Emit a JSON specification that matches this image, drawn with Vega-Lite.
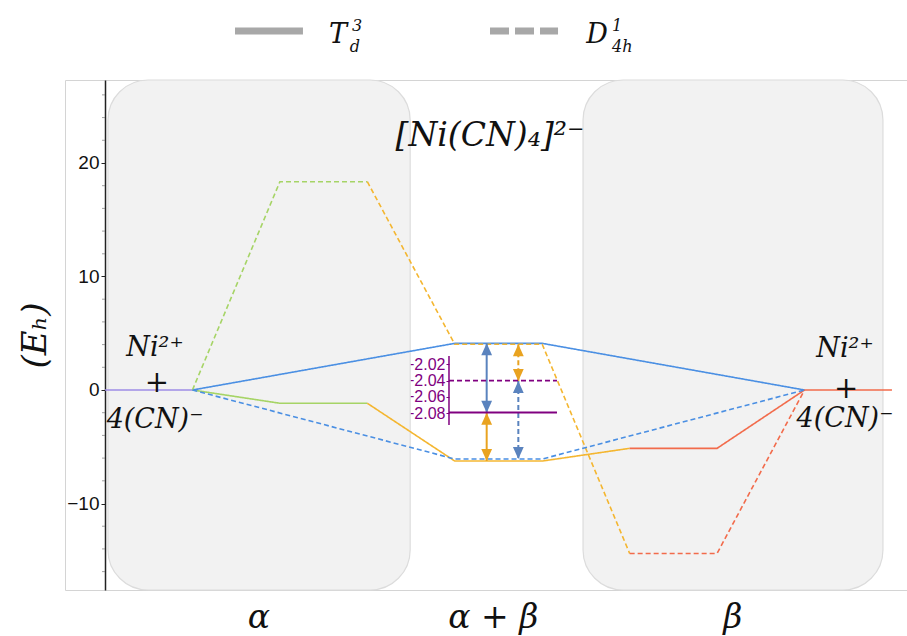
{
  "$schema": "https://vega.github.io/schema/vega-lite/v6.json",
  "width": 842,
  "height": 510,
  "autosize": {"type": "none"},
  "padding": {"left": 65, "top": 80, "right": 0, "bottom": 46},
  "background": "white",
  "config": {
    "view": {"stroke": "#d4d4d4", "strokeWidth": 1},
    "axis": {"grid": false}
  },
  "datasets": {
    "boxes": [
      {"x0": 0.034, "x1": 3.49, "y0": -17.62, "y1": 27.31},
      {"x0": 5.467, "x1": 8.897, "y0": -17.62, "y1": 27.31}
    ],
    "levels": [
      {"id": "a", "hue": "purple", "style": "solid", "x": 0, "E": 0},
      {"id": "a", "hue": "purple", "style": "solid", "x": 1, "E": 0},
      {"id": "b", "hue": "green", "style": "dashed", "x": 1, "E": 0},
      {"id": "b", "hue": "green", "style": "dashed", "x": 2, "E": 18.35},
      {"id": "b", "hue": "green", "style": "dashed", "x": 3, "E": 18.35},
      {"id": "c", "hue": "orange", "style": "dashed", "x": 3, "E": 18.35},
      {"id": "c", "hue": "orange", "style": "dashed", "x": 4, "E": 4.03},
      {"id": "c", "hue": "orange", "style": "dashed", "x": 5, "E": 4.03},
      {"id": "c", "hue": "orange", "style": "dashed", "x": 6, "E": -14.4},
      {"id": "d", "hue": "red", "style": "dashed", "x": 6, "E": -14.4},
      {"id": "d", "hue": "red", "style": "dashed", "x": 7, "E": -14.4},
      {"id": "d", "hue": "red", "style": "dashed", "x": 8, "E": 0},
      {"id": "e", "hue": "green", "style": "solid", "x": 1, "E": 0},
      {"id": "e", "hue": "green", "style": "solid", "x": 2, "E": -1.17},
      {"id": "e", "hue": "green", "style": "solid", "x": 3, "E": -1.17},
      {"id": "f", "hue": "orange", "style": "solid", "x": 3, "E": -1.17},
      {"id": "f", "hue": "orange", "style": "solid", "x": 4, "E": -6.26},
      {"id": "f", "hue": "orange", "style": "solid", "x": 5, "E": -6.26},
      {"id": "f", "hue": "orange", "style": "solid", "x": 6, "E": -5.14},
      {"id": "g", "hue": "red", "style": "solid", "x": 6, "E": -5.14},
      {"id": "g", "hue": "red", "style": "solid", "x": 7, "E": -5.14},
      {"id": "g", "hue": "red", "style": "solid", "x": 8, "E": 0},
      {"id": "g", "hue": "red", "style": "solid", "x": 9, "E": 0},
      {"id": "h", "hue": "blue", "style": "solid", "x": 1, "E": 0},
      {"id": "h", "hue": "blue", "style": "solid", "x": 4, "E": 4.11},
      {"id": "h", "hue": "blue", "style": "solid", "x": 5, "E": 4.11},
      {"id": "h", "hue": "blue", "style": "solid", "x": 8, "E": 0},
      {"id": "i", "hue": "blue", "style": "dashed", "x": 1, "E": 0},
      {"id": "i", "hue": "blue", "style": "dashed", "x": 4, "E": -6.08},
      {"id": "i", "hue": "blue", "style": "dashed", "x": 5, "E": -6.08},
      {"id": "i", "hue": "blue", "style": "dashed", "x": 8, "E": 0}
    ],
    "arrows": [
      {"x": 4.365, "top": 4.11, "bottom": -2.0, "hue": "steel", "style": "solid"},
      {"x": 4.365, "top": -2.0, "bottom": -6.26, "hue": "amber", "style": "solid"},
      {"x": 4.727, "top": 4.03, "bottom": 0.79, "hue": "amber", "style": "dashed"},
      {"x": 4.727, "top": 0.79, "bottom": -6.08, "hue": "steel", "style": "dashed"}
    ],
    "minorTicks": [
      {"E": -16}, {"E": -14}, {"E": -12}, {"E": -8}, {"E": -6}, {"E": -4}, {"E": -2},
      {"E": 2}, {"E": 4}, {"E": 6}, {"E": 8}, {"E": 12}, {"E": 14}, {"E": 16},
      {"E": 18}, {"E": 22}, {"E": 24}, {"E": 26}
    ],
    "legendKeys": [
      {"x0": 1.487, "x1": 2.264, "E": 31.63, "style": "solid"},
      {"x0": 4.403, "x1": 5.181, "E": 31.63, "style": "wide"}
    ],
    "formulas": [
      {"text": "[Ni(CN)₄]²⁻", "x": 4.403, "E": 21.5, "role": "title"},
      {"text": "Ni²⁺", "x": 0.572, "E": 3.0, "role": "species"},
      {"text": "4(CN)⁻", "x": 0.572, "E": -3.35, "role": "species"},
      {"text": "Ni²⁺", "x": 8.463, "E": 2.95, "role": "species"},
      {"text": "4(CN)⁻", "x": 8.463, "E": -3.3, "role": "species"},
      {"text": "α", "x": 1.76, "E": -20.97, "role": "phase"},
      {"text": "α + β", "x": 4.44, "E": -20.97, "role": "phase"},
      {"text": "β", "x": 7.18, "E": -20.97, "role": "phase"},
      {"text": "T", "x": 2.665, "E": 30.57, "role": "symbol"},
      {"text": "D", "x": 5.627, "E": 30.57, "role": "symbol"}
    ],
    "scripts": [
      {"text": "3", "x": 2.825, "E": 31.6},
      {"text": "d", "x": 2.8, "E": 29.75},
      {"text": "1", "x": 5.798, "E": 31.6},
      {"text": "4h", "x": 5.798, "E": 29.75}
    ],
    "plusSigns": [
      {"x": 0.595, "E": 0.6},
      {"x": 8.475, "E": 0.1}
    ],
    "insetAxis": [
      {"x": 3.934, "v0": -2.0943, "v1": -2.0098}
    ],
    "insetLevels": [
      {"x0": 3.934, "x1": 5.169, "v": -2.04, "style": "dashed"},
      {"x0": 3.934, "x1": 5.169, "v": -2.079, "style": "solid"}
    ]
  },
  "resolve": {"scale": {"y": "independent"}},
  "layer": [
    {
      "layer": [
        {
          "data": {"name": "boxes"},
          "mark": {"type": "rect", "fill": "#f2f2f2", "stroke": "#dcdcdc", "strokeWidth": 1.2, "cornerRadius": 40},
          "encoding": {
            "x": {"field": "x0", "type": "quantitative", "scale": {"domain": [-0.4575, 9.172], "nice": false, "zero": false}, "axis": null},
            "x2": {"field": "x1"},
            "y": {
              "field": "y0", "type": "quantitative",
              "scale": {"domain": [-17.62, 27.31], "nice": false, "zero": false},
              "axis": {
                "orient": "left", "offset": -40, "values": [-10, 0, 10, 20], "format": "d",
                "domainColor": "#222222", "domainWidth": 1.5, "tickColor": "#222222", "tickSize": 4,
                "labelFont": "Liberation Sans", "labelFontSize": 19, "labelColor": "#111111", "labelPadding": 2,
                "title": "(Eₕ)", "titleFont": "DejaVu Serif", "titleFontStyle": "italic", "titleFontWeight": "normal",
                "titleFontSize": 34, "titleColor": "#111111", "titlePadding": 14
              }
            },
            "y2": {"field": "y1"}
          }
        },
        {
          "data": {"name": "minorTicks"},
          "mark": {"type": "tick", "orient": "horizontal", "size": 3, "thickness": 1, "color": "#777777", "xOffset": -1.5},
          "encoding": {
            "x": {"datum": 0, "type": "quantitative", "scale": {"domain": [-0.4575, 9.172], "nice": false, "zero": false}},
            "y": {"field": "E", "type": "quantitative", "scale": {"domain": [-17.62, 27.31], "nice": false, "zero": false}}
          }
        },
        {
          "data": {"name": "levels"},
          "transform": [{"filter": "datum.style === 'solid'"}],
          "mark": {"type": "line", "strokeWidth": 1.6},
          "encoding": {
            "x": {"field": "x", "type": "quantitative", "scale": {"domain": [-0.4575, 9.172], "nice": false, "zero": false}},
            "y": {"field": "E", "type": "quantitative", "scale": {"domain": [-17.62, 27.31], "nice": false, "zero": false}},
            "detail": {"field": "id"},
            "color": {
              "field": "hue", "type": "nominal", "legend": null,
              "scale": {
                "domain": ["purple", "green", "orange", "red", "blue", "steel", "amber"],
                "range": ["#9d8ce6", "#a6d466", "#f4b630", "#f26b4b", "#4a8fe3", "#5a83be", "#e9a320"]
              }
            },
            "strokeDash": {
              "field": "style", "type": "nominal", "legend": null,
              "scale": {"domain": ["solid", "dashed", "wide"], "range": [[1, 0], [5, 3], [19, 6]]}
            }
          }
        },
        {
          "data": {"name": "levels"},
          "transform": [{"filter": "datum.style === 'dashed'"}],
          "mark": {"type": "line", "strokeWidth": 1.6},
          "encoding": {
            "x": {"field": "x", "type": "quantitative", "scale": {"domain": [-0.4575, 9.172], "nice": false, "zero": false}},
            "y": {"field": "E", "type": "quantitative", "scale": {"domain": [-17.62, 27.31], "nice": false, "zero": false}},
            "detail": {"field": "id"},
            "color": {"field": "hue", "type": "nominal", "legend": null},
            "strokeDash": {"field": "style", "type": "nominal", "legend": null}
          }
        },
        {
          "data": {"name": "arrows"},
          "mark": {"type": "rule", "strokeWidth": 2},
          "encoding": {
            "x": {"field": "x", "type": "quantitative", "scale": {"domain": [-0.4575, 9.172], "nice": false, "zero": false}},
            "y": {"field": "top", "type": "quantitative", "scale": {"domain": [-17.62, 27.31], "nice": false, "zero": false}},
            "y2": {"field": "bottom"},
            "color": {"field": "hue", "type": "nominal", "legend": null},
            "strokeDash": {"field": "style", "type": "nominal", "legend": null}
          }
        },
        {
          "data": {"name": "arrows"},
          "mark": {"type": "point", "filled": true, "opacity": 1, "strokeWidth": 0, "size": 144, "shape": "M0,0L-0.9,2L0.9,2Z"},
          "encoding": {
            "x": {"field": "x", "type": "quantitative", "scale": {"domain": [-0.4575, 9.172], "nice": false, "zero": false}},
            "y": {"field": "top", "type": "quantitative", "scale": {"domain": [-17.62, 27.31], "nice": false, "zero": false}},
            "color": {"field": "hue", "type": "nominal", "legend": null}
          }
        },
        {
          "data": {"name": "arrows"},
          "mark": {"type": "point", "filled": true, "opacity": 1, "strokeWidth": 0, "size": 144, "shape": "M0,0L-0.9,-2L0.9,-2Z"},
          "encoding": {
            "x": {"field": "x", "type": "quantitative", "scale": {"domain": [-0.4575, 9.172], "nice": false, "zero": false}},
            "y": {"field": "bottom", "type": "quantitative", "scale": {"domain": [-17.62, 27.31], "nice": false, "zero": false}},
            "color": {"field": "hue", "type": "nominal", "legend": null}
          }
        },
        {
          "data": {"name": "legendKeys"},
          "mark": {"type": "rule", "strokeWidth": 7, "color": "#a8a8a8"},
          "encoding": {
            "x": {"field": "x0", "type": "quantitative", "scale": {"domain": [-0.4575, 9.172], "nice": false, "zero": false}},
            "x2": {"field": "x1"},
            "y": {"field": "E", "type": "quantitative", "scale": {"domain": [-17.62, 27.31], "nice": false, "zero": false}},
            "strokeDash": {"field": "style", "type": "nominal", "legend": null}
          }
        },
        {
          "data": {"name": "formulas"},
          "transform": [{"filter": "datum.role === 'title'"}],
          "mark": {"type": "text", "font": "DejaVu Serif", "fontStyle": "italic", "fontSize": 33, "align": "center", "baseline": "alphabetic", "color": "#111111"},
          "encoding": {
            "x": {"field": "x", "type": "quantitative", "scale": {"domain": [-0.4575, 9.172], "nice": false, "zero": false}},
            "y": {"field": "E", "type": "quantitative", "scale": {"domain": [-17.62, 27.31], "nice": false, "zero": false}},
            "text": {"field": "text"}
          }
        },
        {
          "data": {"name": "formulas"},
          "transform": [{"filter": "datum.role === 'species'"}],
          "mark": {"type": "text", "font": "DejaVu Serif", "fontStyle": "italic", "fontSize": 27, "align": "center", "baseline": "alphabetic", "color": "#111111"},
          "encoding": {
            "x": {"field": "x", "type": "quantitative", "scale": {"domain": [-0.4575, 9.172], "nice": false, "zero": false}},
            "y": {"field": "E", "type": "quantitative", "scale": {"domain": [-17.62, 27.31], "nice": false, "zero": false}},
            "text": {"field": "text"}
          }
        },
        {
          "data": {"name": "formulas"},
          "transform": [{"filter": "datum.role === 'phase'"}],
          "mark": {"type": "text", "font": "DejaVu Serif", "fontStyle": "italic", "fontSize": 33, "align": "center", "baseline": "alphabetic", "color": "#111111"},
          "encoding": {
            "x": {"field": "x", "type": "quantitative", "scale": {"domain": [-0.4575, 9.172], "nice": false, "zero": false}},
            "y": {"field": "E", "type": "quantitative", "scale": {"domain": [-17.62, 27.31], "nice": false, "zero": false}},
            "text": {"field": "text"}
          }
        },
        {
          "data": {"name": "formulas"},
          "transform": [{"filter": "datum.role === 'symbol'"}],
          "mark": {"type": "text", "font": "DejaVu Serif", "fontStyle": "italic", "fontSize": 27, "align": "center", "baseline": "alphabetic", "color": "#111111"},
          "encoding": {
            "x": {"field": "x", "type": "quantitative", "scale": {"domain": [-0.4575, 9.172], "nice": false, "zero": false}},
            "y": {"field": "E", "type": "quantitative", "scale": {"domain": [-17.62, 27.31], "nice": false, "zero": false}},
            "text": {"field": "text"}
          }
        },
        {
          "data": {"name": "scripts"},
          "mark": {"type": "text", "font": "DejaVu Serif", "fontStyle": "italic", "fontSize": 16, "align": "left", "baseline": "alphabetic", "color": "#111111"},
          "encoding": {
            "x": {"field": "x", "type": "quantitative", "scale": {"domain": [-0.4575, 9.172], "nice": false, "zero": false}},
            "y": {"field": "E", "type": "quantitative", "scale": {"domain": [-17.62, 27.31], "nice": false, "zero": false}},
            "text": {"field": "text"}
          }
        },
        {
          "data": {"name": "plusSigns"},
          "mark": {"type": "text", "font": "DejaVu Serif", "fontSize": 29, "align": "center", "baseline": "middle", "color": "#111111", "text": "+"},
          "encoding": {
            "x": {"field": "x", "type": "quantitative", "scale": {"domain": [-0.4575, 9.172], "nice": false, "zero": false}},
            "y": {"field": "E", "type": "quantitative", "scale": {"domain": [-17.62, 27.31], "nice": false, "zero": false}}
          }
        }
      ]
    },
    {
      "layer": [
        {
          "data": {"name": "insetLevels"},
          "mark": {"type": "rule", "strokeWidth": 1.8, "color": "#800080"},
          "encoding": {
            "x": {"field": "x0", "type": "quantitative", "scale": {"domain": [-0.4575, 9.172], "nice": false, "zero": false}},
            "x2": {"field": "x1"},
            "y": {
              "field": "v", "type": "quantitative",
              "scale": {"domain": [-2.29635, -1.67189], "nice": false, "zero": false},
              "axis": {
                "orient": "left", "offset": -384, "values": [-2.02, -2.04, -2.06, -2.08], "format": ".2f",
                "domain": false, "tickColor": "#800080", "tickSize": 3, "labelPadding": 1,
                "labelFont": "Liberation Sans", "labelFontSize": 16, "labelColor": "#800080", "title": null
              }
            },
            "strokeDash": {"field": "style", "type": "nominal", "legend": null}
          }
        },
        {
          "data": {"name": "insetAxis"},
          "mark": {"type": "rule", "strokeWidth": 1.5, "color": "#800080"},
          "encoding": {
            "x": {"field": "x", "type": "quantitative", "scale": {"domain": [-0.4575, 9.172], "nice": false, "zero": false}},
            "y": {"field": "v0", "type": "quantitative", "scale": {"domain": [-2.29635, -1.67189], "nice": false, "zero": false}},
            "y2": {"field": "v1"}
          }
        }
      ]
    }
  ]
}
